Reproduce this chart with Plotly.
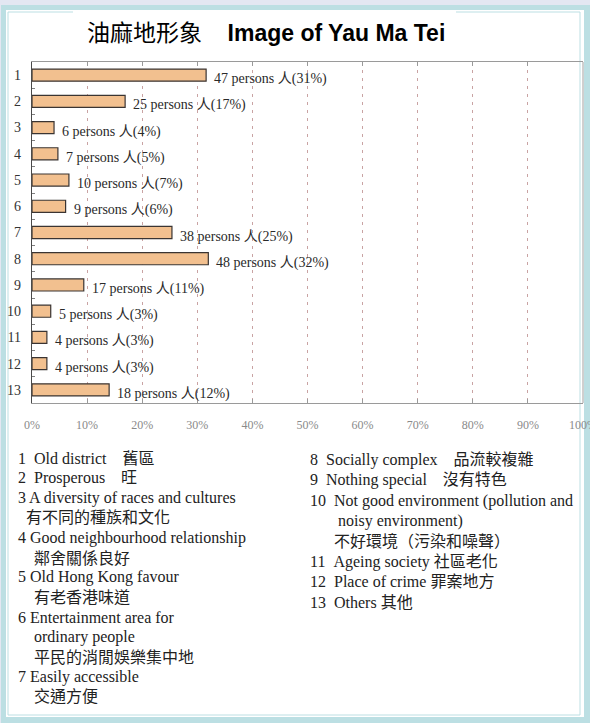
import plotly.graph_objects as go

# ---------------- data ----------------
categories = ["1", "2", "3", "4", "5", "6", "7", "8", "9", "10", "11", "12", "13"]
bar_percent = [31.6, 16.9, 4.0, 4.7, 6.7, 6.1, 25.4, 32.0, 9.4, 3.4, 2.7, 2.7, 14.0]
persons = [47, 25, 6, 7, 10, 9, 38, 48, 17, 5, 4, 4, 18]
label_percent = [31, 17, 4, 5, 7, 6, 25, 32, 11, 3, 3, 3, 12]
x_ticks = [0, 10, 20, 30, 40, 50, 60, 70, 80, 90, 100]
x_tick_labels = ["0%", "10%", "20%", "30%", "40%", "50%", "60%", "70%", "80%", "90%", "100%"]

title_cn = "油麻地形象"
title_en = "Image of Yau Ma Tei"

NB = "\u00a0"
legend_left = [
    "1" + NB * 2 + "Old district" + NB * 4 + "舊區",
    "2" + NB * 2 + "Prosperous" + NB * 4 + "旺",
    "3 A diversity of races and cultures",
    NB * 2 + "有不同的種族和文化",
    "4 Good neighbourhood relationship",
    NB * 4 + "鄰舍關係良好",
    "5 Old Hong Kong favour",
    NB * 4 + "有老香港味道",
    "6 Entertainment area for",
    NB * 4 + "ordinary people",
    NB * 4 + "平民的消閒娛樂集中地",
    "7 Easily accessible",
    NB * 4 + "交通方便",
]
legend_right = [
    "8" + NB * 2 + "Socially complex" + NB * 4 + "品流較複雜",
    "9" + NB * 2 + "Nothing special" + NB * 4 + "沒有特色",
    "10" + NB * 2 + "Not good environment (pollution and",
    NB * 7 + "noisy environment)",
    NB * 6 + "不好環境（污染和噪聲）",
    "11" + NB * 2 + "Ageing society 社區老化",
    "12" + NB * 2 + "Place of crime 罪案地方",
    "13" + NB * 2 + "Others 其他",
]

# ---------------- layout geometry ----------------
W, H = 590, 723
PX0, PX1, PY0, PY1 = 32, 583, 62, 403  # plot area in pixels


def px(x):
    return (x - PX0) / (PX1 - PX0)


def py(y):
    return (PY1 - y) / (PY1 - PY0)


SERIF = "Liberation Serif, Times New Roman, Noto Sans CJK TC, serif"

fig = go.Figure()
fig.add_trace(go.Bar(
    y=categories, x=bar_percent, orientation="h",
    marker=dict(color="#F2C08F", line=dict(color="#3A3432", width=1.2)),
    width=0.46, hoverinfo="skip",
))

annotations = []
for i, (v, p, lp) in enumerate(zip(bar_percent, persons, label_percent)):
    annotations.append(dict(
        x=v, y=i, xref="x", yref="y", xanchor="left", yanchor="middle",
        text=f"{p} persons 人({lp}%)", showarrow=False, xshift=6, yshift=-4,
        font=dict(family=SERIF, size=14, color="#2A2A2A"),
    ))

# title
annotations.append(dict(
    x=px(266), y=py(33), xref="paper", yref="paper", xanchor="center", yanchor="middle",
    text=title_cn + NB * 4 + "<b>" + title_en + "</b>", showarrow=False,
    font=dict(family="Liberation Sans, Arial, Noto Sans CJK TC, sans-serif", size=23, color="#000"),
))

# legend text
for i, line in enumerate(legend_left):
    annotations.append(dict(
        x=px(16), y=py(458 + i * 19.9), xref="paper", yref="paper",
        xanchor="left", yanchor="middle", text=line, showarrow=False,
        font=dict(family=SERIF, size=16, color="#222"),
    ))
for i, line in enumerate(legend_right):
    annotations.append(dict(
        x=px(308), y=py(460 + i * 20.3), xref="paper", yref="paper",
        xanchor="left", yanchor="middle", text=line, showarrow=False,
        font=dict(family=SERIF, size=16, color="#222"),
    ))

frame_blue = "#BCDFE3"
shapes = [
    dict(type="rect", xref="paper", yref="paper", layer="below",
         x0=px(1), x1=px(590), y0=py(5), y1=py(723),
         fillcolor=frame_blue, line=dict(width=0)),
    dict(type="rect", xref="paper", yref="paper", layer="below",
         x0=px(6), x1=px(584), y0=py(10), y1=py(717),
         fillcolor="white", line=dict(width=0)),
    dict(type="rect", xref="paper", yref="paper", layer="below",
         x0=px(8), x1=px(580), y0=py(12), y1=py(715),
         fillcolor="rgba(0,0,0,0)", line=dict(color=frame_blue, width=1)),
    dict(type="rect", xref="paper", yref="paper", layer="below",
         x0=px(73), x1=px(456), y0=py(10), y1=py(56),
         fillcolor="white", line=dict(width=0)),
    dict(type="line", xref="paper", yref="paper", layer="above",
         x0=1, x1=1, y0=0, y1=1, line=dict(color="#A0A0A0", width=1)),
]

fig.update_layout(
    width=W, height=H,
    margin=dict(l=PX0, r=W - PX1, t=PY0, b=H - PY1, pad=0, autoexpand=False),
    paper_bgcolor="#E3E7F2", plot_bgcolor="white",
    showlegend=False,
    annotations=annotations, shapes=shapes,
    xaxis=dict(
        range=[0, 100], tickvals=x_ticks, ticktext=x_tick_labels,
        showgrid=True, gridcolor="#C9A3A3", gridwidth=1, griddash="3px,5px",
        zeroline=False, showline=True, linecolor="#9A9A9A", linewidth=1,
        mirror="ticks", ticks="inside", ticklen=4, tickcolor="#9A9A9A",
        ticklabelstandoff=11, ticklabeloverflow="allow", automargin=False,
        tickfont=dict(family=SERIF, size=12, color="#8A8A8A"),
        fixedrange=True,
    ),
    yaxis=dict(
        type="category", categoryorder="array", categoryarray=categories,
        range=[12.5, -0.5], showgrid=False, zeroline=False,
        showline=True, linecolor="#4A4A4A", linewidth=1.3,
        ticks="inside", ticklen=3, tickcolor="#808080", tickson="boundaries",
        ticklabelstandoff=7, automargin=False,
        tickfont=dict(family=SERIF, size=14, color="#333"),
        fixedrange=True,
    ),
)

fig.write_html(
    "out.html",
    config={"displayModeBar": False},
    post_script="document.body.style.margin='0';document.body.style.overflow='hidden';",
)
